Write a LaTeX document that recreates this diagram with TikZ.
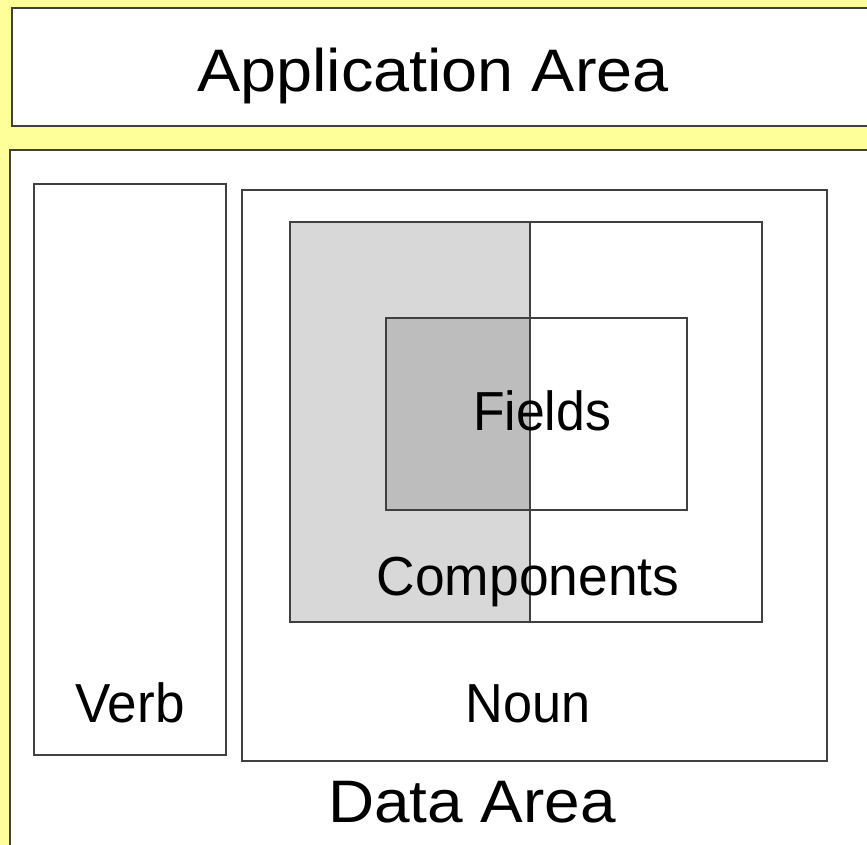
\documentclass[tikz,border=0pt]{standalone}
\usepackage{fontspec}
\setmainfont{Liberation Sans}
\definecolor{bgyellow}{HTML}{FFFF99}
\definecolor{lineg}{HTML}{404040}
\definecolor{shadelight}{HTML}{D8D8D8}
\definecolor{shadedark}{HTML}{BDBDBD}
\tikzset{
  box/.style={draw=lineg, line width=1.6pt, fill=white},
  ibox/.style={draw=lineg, line width=1.4pt},
  bigtxt/.style={anchor=base, inner sep=0pt, font=\fontsize{60}{64}\selectfont},
  midtxt/.style={anchor=base, inner sep=0pt, font=\fontsize{55}{60}\selectfont},
}
\begin{document}
\begin{tikzpicture}[x=1pt, y=-1pt]
\useasboundingbox (0,0) rectangle (867,845);
\clip (0,0) rectangle (867,845);
\fill[bgyellow] (0,0) rectangle (867,845);
% application area
\draw[box] (12,8) rectangle (875,126);
\node[bigtxt, xscale=1.08] (app) at (433,92) {Application Area};
% data area
\draw[box] (10,150) rectangle (875,855);
% verb and noun
\draw[ibox, fill=white] (34,184) rectangle (226,755);
\draw[ibox, fill=white] (242,190) rectangle (827,761);
% shaded regions
\fill[shadelight] (290,222) rectangle (530,622);
\fill[shadedark] (386,318) rectangle (530,510);
\draw[ibox] (290,222) rectangle (762,622);
\draw[ibox] (386,318) rectangle (687,510);
\draw[ibox] (530,222) -- (530,622);
% labels
\node[midtxt, xscale=0.94] (fields) at (542,430) {Fields};
\node[midtxt, xscale=0.97] (comp) at (528,595) {Components};
\node[midtxt, xscale=0.965] (verb) at (130,722) {Verb};
\node[midtxt, xscale=0.95] (noun) at (528,722) {Noun};
\node[bigtxt, xscale=1.065] (data) at (472,822) {Data Area};
\end{tikzpicture}
\end{document}
